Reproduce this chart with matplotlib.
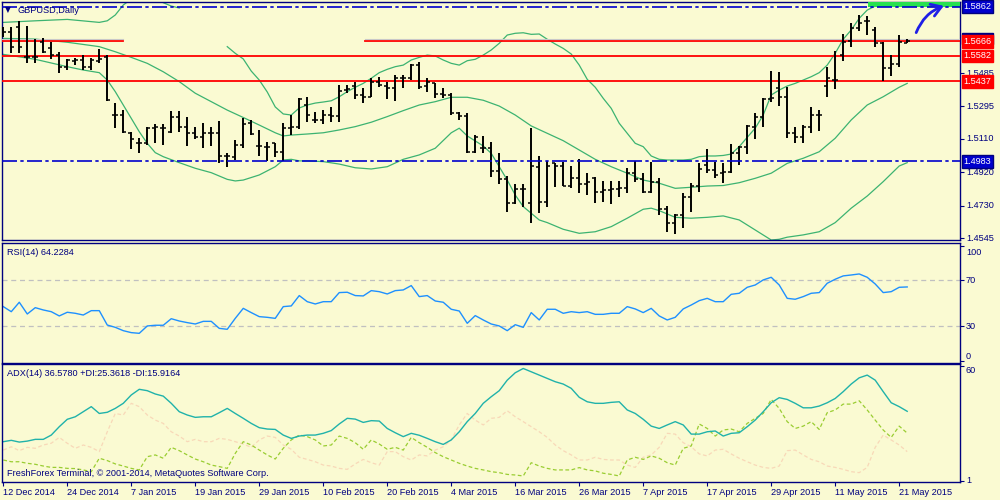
import numpy as np
import matplotlib
matplotlib.use("Agg")
import matplotlib.pyplot as plt
from matplotlib.patches import Rectangle
from matplotlib.transforms import blended_transform_factory

# ---------------- data ----------------
highs = [1.5748, 1.5748, 1.5783, 1.5752, 1.5676, 1.5682, 1.5663, 1.5606, 1.5563, 1.5568,
         1.5587, 1.5568, 1.5619, 1.5587, 1.5316, 1.5274, 1.5151, 1.5113, 1.5180, 1.5195,
         1.5195, 1.5269, 1.5269, 1.5236, 1.5180, 1.5198, 1.5180, 1.5212, 1.5032, 1.5104,
         1.5227, 1.5217, 1.5161, 1.5094, 1.5089, 1.5198, 1.5246, 1.5341, 1.5350, 1.5265,
         1.5274, 1.5293, 1.5417, 1.5417, 1.5436, 1.5398, 1.5454, 1.5460, 1.5436, 1.5473,
         1.5473, 1.5536, 1.5549, 1.5454, 1.5426, 1.5398, 1.5369, 1.5265, 1.5255, 1.5132,
         1.5126, 1.5094, 1.5028, 1.4899, 1.4853, 1.4853, 1.5170, 1.5013, 1.4986, 1.4971,
         1.4980, 1.4958, 1.4994, 1.4918, 1.4895, 1.4871, 1.4871, 1.4871, 1.4943, 1.4984,
         1.4918, 1.4980, 1.4886, 1.4728, 1.4681, 1.4804, 1.4857, 1.4975, 1.5051, 1.4980,
         1.4971, 1.5081, 1.5070, 1.5189, 1.5259, 1.5341, 1.5498, 1.5492, 1.5403, 1.5176,
         1.5189, 1.5290, 1.5274, 1.5521, 1.5612, 1.5707, 1.5771, 1.5815, 1.5809, 1.5745,
         1.5663, 1.5587, 1.5701, 1.5676]
lows = [1.5691, 1.5597, 1.5600, 1.5544, 1.5544, 1.5600, 1.5563, 1.5483, 1.5502, 1.5530,
        1.5502, 1.5502, 1.5540, 1.5327, 1.5170, 1.5145, 1.5051, 1.5032, 1.5075, 1.5089,
        1.5075, 1.5145, 1.5151, 1.5070, 1.5108, 1.5056, 1.5070, 1.4971, 1.4948, 1.4990,
        1.5056, 1.5132, 1.5013, 1.4986, 1.5009, 1.4986, 1.5132, 1.5164, 1.5208, 1.5198,
        1.5195, 1.5208, 1.5208, 1.5369, 1.5335, 1.5312, 1.5346, 1.5403, 1.5335, 1.5327,
        1.5398, 1.5445, 1.5392, 1.5379, 1.5341, 1.5341, 1.5246, 1.5217, 1.5028, 1.5032,
        1.5028, 1.4891, 1.4853, 1.4696, 1.4740, 1.4721, 1.4634, 1.4687, 1.4721, 1.4834,
        1.4842, 1.4829, 1.4804, 1.4791, 1.4747, 1.4753, 1.4740, 1.4778, 1.4804, 1.4867,
        1.4800, 1.4804, 1.4677, 1.4582, 1.4567, 1.4601, 1.4696, 1.4810, 1.4918, 1.4886,
        1.4857, 1.4914, 1.4962, 1.5024, 1.5108, 1.5176, 1.5322, 1.5297, 1.5113, 1.5089,
        1.5085, 1.5145, 1.5157, 1.5350, 1.5392, 1.5555, 1.5631, 1.5726, 1.5701, 1.5635,
        1.5441, 1.5468, 1.5521, 1.5653]
opens = [1.5716, 1.5720, 1.5748, 1.5574, 1.5574, 1.5663, 1.5625, 1.5587, 1.5521, 1.5553,
         1.5559, 1.5521, 1.5555, 1.5578, 1.5246, 1.5246, 1.5145, 1.5085, 1.5089, 1.5170,
         1.5170, 1.5151, 1.5236, 1.5180, 1.5142, 1.5119, 1.5142, 1.5142, 1.5013, 1.5009,
         1.5075, 1.5198, 1.5070, 1.5066, 1.5085, 1.5037, 1.5170, 1.5180, 1.5303, 1.5217,
         1.5217, 1.5246, 1.5240, 1.5388, 1.5411, 1.5360, 1.5350, 1.5436, 1.5411, 1.5398,
         1.5454, 1.5454, 1.5530, 1.5411, 1.5426, 1.5363, 1.5360, 1.5255, 1.5240, 1.5037,
         1.5056, 1.5056, 1.4929, 1.4880, 1.4743, 1.4823, 1.4743, 1.4952, 1.4753, 1.4971,
         1.4958, 1.4842, 1.4886, 1.4853, 1.4886, 1.4810, 1.4819, 1.4823, 1.4829, 1.4918,
         1.4880, 1.4810, 1.4867, 1.4709, 1.4634, 1.4677, 1.4778, 1.4842, 1.4962, 1.4933,
         1.4914, 1.4924, 1.5032, 1.5062, 1.5180, 1.5233, 1.5337, 1.5398, 1.5346, 1.5142,
         1.5123, 1.5180, 1.5246, 1.5411, 1.5445, 1.5587, 1.5669, 1.5739, 1.5783, 1.5729,
         1.5653, 1.5511, 1.5536, 1.5657]
closes = [1.5716, 1.5635, 1.5635, 1.5574, 1.5574, 1.5606, 1.5587, 1.5521, 1.5559, 1.5559,
          1.5521, 1.5559, 1.5563, 1.5331, 1.5246, 1.5149, 1.5108, 1.5085, 1.5170, 1.5176,
          1.5170, 1.5236, 1.5180, 1.5145, 1.5119, 1.5145, 1.5142, 1.5013, 1.5013, 1.5075,
          1.5195, 1.5138, 1.5070, 1.5066, 1.5037, 1.5170, 1.5180, 1.5335, 1.5246, 1.5217,
          1.5246, 1.5240, 1.5384, 1.5392, 1.5360, 1.5350, 1.5436, 1.5417, 1.5398, 1.5454,
          1.5454, 1.5530, 1.5403, 1.5436, 1.5363, 1.5360, 1.5255, 1.5240, 1.5037, 1.5123,
          1.5056, 1.4929, 1.4880, 1.4743, 1.4823, 1.4823, 1.4956, 1.4753, 1.4958, 1.4958,
          1.4842, 1.4886, 1.4853, 1.4867, 1.4810, 1.4819, 1.4823, 1.4829, 1.4918, 1.4880,
          1.4810, 1.4867, 1.4709, 1.4634, 1.4677, 1.4778, 1.4842, 1.4937, 1.4933, 1.4905,
          1.4924, 1.5032, 1.5062, 1.5183, 1.5233, 1.5337, 1.5341, 1.5346, 1.5142, 1.5119,
          1.5180, 1.5246, 1.5246, 1.5454, 1.5445, 1.5663, 1.5739, 1.5771, 1.5783, 1.5653,
          1.5511, 1.5536, 1.5659, 1.5669]

bb_upper_idx = [0, 4, 8, 12, 13, 14, 15, 16, 18, 20, 21, 22, 23] + list(range(28, 114))
bb_upper = [1.5773, 1.5782, 1.5790, 1.5773, 1.5782, 1.5815, 1.5872, 1.5905, 1.5925, 1.5885,
            1.5866, 1.5855, np.nan,
            1.5635, 1.5597, 1.5565, 1.5496, 1.5445, 1.5377, 1.5292, 1.5252, 1.5246, 1.5286,
            1.5303, 1.5314, 1.5320, 1.5327, 1.5350, 1.5379, 1.5404, 1.5426, 1.5455, 1.5487,
            1.5506, 1.5521, 1.5530, 1.5559, 1.5574, 1.5587, 1.5582, 1.5559, 1.5540, 1.5530,
            1.5555, 1.5563, 1.5587, 1.5616, 1.5654, 1.5701, 1.5711, 1.5714, 1.5705, 1.5707,
            1.5677, 1.5650, 1.5625, 1.5593, 1.5530, 1.5449, 1.5404, 1.5341, 1.5284, 1.5199,
            1.5142, 1.5085, 1.5066, 1.5013, 1.4994, 1.4990, 1.4990, 1.4990, 1.4994, 1.5009,
            1.5013, 1.5013, 1.5016, 1.5024, 1.5066, 1.5119, 1.5171, 1.5246, 1.5360, 1.5388,
            1.5411, 1.5426, 1.5445, 1.5464, 1.5487, 1.5530, 1.5597, 1.5677, 1.5730, 1.5796,
            1.5843, 1.5866, 1.5877, 1.5881, 1.5890, 1.5900]
bb_mid_idx = [0, 4, 8, 12, 14, 16, 18, 20, 22, 24, 26, 28, 30, 32, 34, 35, 36, 38, 40, 42,
              44, 46, 48, 50, 52, 54, 56, 58, 60, 62, 64, 66, 68, 70, 72, 74, 76, 78, 80, 82,
              84, 86, 88, 90, 92, 94, 96, 98, 100, 102, 104, 106, 108, 110, 112, 113]
bb_mid = [1.5682, 1.5678, 1.5660, 1.5635, 1.5606, 1.5574, 1.5540, 1.5492, 1.5436, 1.5370,
          1.5322, 1.5274, 1.5232, 1.5189, 1.5145, 1.5127, 1.5132, 1.5138, 1.5145, 1.5161,
          1.5180, 1.5205, 1.5237, 1.5271, 1.5303, 1.5322, 1.5347, 1.5347, 1.5330, 1.5297,
          1.5246, 1.5184, 1.5142, 1.5100, 1.5047, 1.4994, 1.4952, 1.4915, 1.4876, 1.4858,
          1.4829, 1.4835, 1.4842, 1.4845, 1.4861, 1.4886, 1.4915, 1.4971, 1.5000, 1.5037,
          1.5114, 1.5218, 1.5303, 1.5350, 1.5404, 1.5426]
bb_lower_idx = [0, 4, 8, 10, 12, 13, 14, 15, 16, 17, 18, 19, 20, 22, 24, 26, 28, 29, 30, 32,
                34, 35, 36, 37, 38, 40, 42, 44, 46, 48, 50, 52, 54, 56, 57, 58, 60, 61, 62, 63,
                64, 65, 66, 67, 68, 70, 72, 74, 76, 78, 80, 81, 82, 84, 86, 88, 90, 92, 94, 96,
                97, 98, 100, 102, 104, 106, 108, 110, 112, 113]
bb_lower = [1.5591, 1.5563, 1.5521, 1.5502, 1.5487, 1.5445, 1.5379, 1.5303, 1.5227, 1.5151,
            1.5085, 1.5032, 1.5009, 1.4975, 1.4943, 1.4918, 1.4880, 1.4871, 1.4876, 1.4905,
            1.4952, 1.4990, 1.4994, 1.4985, 1.4985, 1.4981, 1.4967, 1.4946, 1.4939, 1.4952,
            1.4994, 1.5019, 1.5057, 1.5145, 1.5171, 1.5127, 1.5070, 1.5028, 1.4952, 1.4876,
            1.4791, 1.4725, 1.4687, 1.4649, 1.4634, 1.4596, 1.4573, 1.4582, 1.4611, 1.4659,
            1.4710, 1.4716, 1.4702, 1.4664, 1.4659, 1.4664, 1.4672, 1.4649, 1.4592, 1.4535,
            1.4539, 1.4551, 1.4564, 1.4582, 1.4634, 1.4716, 1.4785, 1.4867, 1.4956, 1.4975]

rsi = [47.1, 42.7, 50.9, 40.7, 46.2, 44.2, 42.7, 39.0, 42.2, 41.3,
       39.8, 43.6, 43.6, 31.1, 29.1, 26.2, 24.5, 23.9, 30.3, 30.9,
       30.9, 36.6, 34.6, 33.2, 32.0, 34.3, 34.3, 28.2, 27.4, 36.9,
       45.6, 41.9, 38.4, 37.8, 36.9, 47.1, 47.7, 56.7, 51.4, 49.4,
       51.4, 51.4, 59.3, 59.6, 56.7, 56.4, 61.0, 60.1, 58.1, 61.0,
       61.6, 65.4, 55.8, 56.7, 52.0, 50.9, 44.8, 43.3, 32.6, 39.3,
       35.5, 32.0, 30.3, 26.2, 31.4, 29.1, 41.9, 35.5, 44.8, 44.8,
       41.3, 42.7, 41.9, 42.7, 40.4, 40.4, 41.3, 41.3, 47.1, 45.1,
       41.9, 45.6, 39.0, 35.5, 37.8, 45.1, 48.5, 52.3, 54.3, 51.4,
       51.4, 57.8, 58.7, 63.9, 65.9, 70.3, 72.6, 65.9, 54.3, 53.5,
       55.8, 58.7, 59.3, 67.4, 70.9, 73.8, 74.6, 75.5, 72.6, 66.8,
       59.3, 60.1, 63.9, 64.2]
adx = [21.0, 21.7, 20.8, 21.3, 22.2, 22.2, 24.4, 28.7, 32.5, 33.8,
       36.4, 39.0, 35.5, 36.1, 38.1, 40.7, 45.0, 47.9, 47.2, 45.5,
       44.4, 40.7, 36.4, 34.7, 33.5, 33.8, 33.8, 35.9, 38.1, 35.5,
       33.0, 30.4, 28.2, 27.5, 27.3, 24.4, 22.7, 23.9, 24.4, 24.4,
       25.3, 26.7, 30.1, 33.0, 32.6, 30.9, 31.8, 31.6, 27.8, 25.6,
       23.6, 25.3, 24.3, 22.7, 21.0, 19.6, 21.9, 26.1, 31.3, 35.5,
       40.7, 44.1, 47.2, 52.6, 56.4, 58.6, 56.9, 55.2, 53.5, 51.8,
       50.6, 48.4, 43.8, 41.5, 40.7, 40.7, 41.2, 41.5, 37.3, 35.5,
       32.5, 29.0, 27.8, 29.6, 31.3, 29.6, 24.9, 24.9, 26.1, 26.5,
       23.9, 25.3, 25.6, 28.7, 32.1, 36.4, 41.0, 43.6, 42.7, 40.7,
       38.4, 38.4, 39.3, 41.0, 43.2, 46.7, 50.6, 53.8, 55.2, 52.6,
       46.7, 41.0, 39.0, 36.6]
plus_di = [11.6, 10.7, 10.7, 9.9, 9.4, 8.5, 7.8, 7.8, 7.3, 7.2,
           6.5, 5.6, 12.5, 11.3, 9.6, 8.5, 7.3, 6.5, 13.3, 14.2,
           12.5, 18.1, 16.4, 14.2, 12.1, 10.7, 9.0, 8.2, 7.3, 15.0,
           21.0, 19.3, 16.7, 14.2, 12.1, 17.6, 21.9, 24.4, 23.6, 21.9,
           18.8, 19.3, 23.9, 22.7, 20.5, 17.1, 21.9, 19.8, 17.1, 18.1,
           16.7, 23.2, 20.5, 18.1, 15.4, 13.3, 11.6, 9.9, 8.5, 7.3,
           6.5, 5.6, 5.1, 4.2, 3.9, 3.4, 10.2, 8.5, 7.3, 6.5,
           6.5, 6.5, 7.7, 6.5, 6.0, 4.8, 4.2, 3.4, 11.6, 13.0,
           11.9, 13.7, 12.5, 10.2, 9.0, 17.6, 18.8, 30.1, 27.8, 23.9,
           27.0, 27.5, 26.1, 30.4, 33.0, 35.5, 42.7, 38.1, 31.3, 27.8,
           29.0, 31.3, 27.3, 35.9, 37.3, 40.3, 40.3, 42.0, 37.3, 32.1,
           27.0, 23.2, 29.0, 25.4]
minus_di = [16.7, 18.4, 16.4, 18.1, 17.6, 19.3, 20.2, 23.2, 20.2, 17.6,
            19.3, 18.1, 15.9, 26.1, 35.5, 34.7, 40.7, 39.0, 34.7, 32.1,
            30.4, 26.1, 23.9, 21.0, 22.2, 21.0, 21.0, 22.7, 22.2, 21.0,
            19.8, 18.1, 21.9, 23.9, 23.2, 19.3, 17.1, 13.0, 11.9, 10.7,
            9.0, 8.5, 7.3, 6.8, 9.6, 11.9, 10.2, 9.0, 15.9, 15.9,
            13.3, 11.6, 14.2, 13.7, 16.7, 18.4, 21.9, 29.6, 35.5, 32.1,
            29.6, 33.0, 33.5, 36.9, 33.8, 31.3, 28.7, 26.1, 23.2, 19.3,
            16.4, 14.2, 11.6, 11.6, 13.0, 11.9, 11.6, 11.6, 9.0, 7.8,
            13.0, 14.2, 18.1, 25.3, 24.9, 20.5, 18.4, 14.7, 13.7, 16.7,
            17.1, 14.7, 12.5, 10.7, 9.0, 7.8, 7.3, 8.5, 16.4, 16.7,
            14.2, 11.9, 10.7, 8.5, 7.8, 6.8, 5.6, 5.1, 7.8, 18.1,
            24.4, 21.9, 19.3, 15.9]

date_labels = ["12 Dec 2014", "24 Dec 2014", "7 Jan 2015", "19 Jan 2015", "29 Jan 2015",
               "10 Feb 2015", "20 Feb 2015", "4 Mar 2015", "16 Mar 2015", "26 Mar 2015",
               "7 Apr 2015", "17 Apr 2015", "29 Apr 2015", "11 May 2015", "21 May 2015"]
date_bars = [0, 8, 16, 24, 32, 40, 48, 56, 64, 72, 80, 88, 96, 104, 112]

price_ticks = [1.5485, 1.5295, 1.5110, 1.4920, 1.4730, 1.4545]
red_levels = [1.5666, 1.5582, 1.5437]
blue_levels = [1.5862, 1.4983]
rsi_levels = [70, 30]
rsi_ticks = [100, 70, 30, 0]
adx_ticks = [60, 1]

# ---------------- style ----------------
BG = "#FAFAD2"
NAVY = "#000080"
FONT = "Liberation Sans"
FS = 6.6
plt.rcParams["font.family"] = [FONT, "DejaVu Sans"]

W, H = 1000, 500
fig = plt.figure(figsize=(10, 5), dpi=100, facecolor=BG)

def frac(x0, y0, x1, y1):
    return [x0 / W, 1 - y1 / H, (x1 - x0) / W, (y1 - y0) / H]

ax1 = fig.add_axes(frac(2, 2, 960, 240))
ax2 = fig.add_axes(frac(2, 243, 960, 363), sharex=ax1)
ax3 = fig.add_axes(frac(2, 364, 960, 482), sharex=ax1)

for ax in (ax1, ax2, ax3):
    ax.set_facecolor(BG)
    for s in ax.spines.values():
        s.set_color(NAVY)
        s.set_linewidth(1.0)
    ax.tick_params(axis="y", left=False, labelleft=False, right=True, labelright=False,
                   direction="out", length=3, color=NAVY, width=0.8)
    ax.tick_params(axis="x", bottom=False, labelbottom=False)

n = len(closes)
x = np.arange(n)
ax1.set_xlim(-0.16, 119.6)
ax1.set_ylim(1.4535, 1.5889)
ax2.set_ylim(-1.9, 102.4)
ax3.set_ylim(0.3, 60.9)

# ---- main price panel ----
ax1.plot(bb_upper_idx, bb_upper, color="#3CB371", lw=0.9, zorder=2)
ax1.plot(bb_mid_idx, bb_mid, color="#3CB371", lw=0.9, zorder=2)
ax1.plot(bb_lower_idx, bb_lower, color="#3CB371", lw=0.9, zorder=2)

ax1.vlines(x, lows, highs, color="black", lw=1.4, zorder=4)
ax1.hlines(opens, x - 0.38, x, color="black", lw=1.1, zorder=4)
ax1.hlines(closes, x, x + 0.38, color="black", lw=1.1, zorder=4)

# horizontal levels
for lv in red_levels[1:]:
    ax1.axhline(lv, color="#FF0000", lw=1.3, zorder=3)
ax1.plot([-0.16, 15], [red_levels[0]] * 2, color="#FF0000", lw=1.3, zorder=3)
ax1.plot([45.2, 119.6], [red_levels[0]] * 2, color="#FF0000", lw=1.3, zorder=3)
ax1.plot([-0.16, 15], [red_levels[0] + 0.0011] * 2, color="#C8C8C8", lw=0.8, zorder=3)
ax1.plot([45.2, 119.6], [red_levels[0] + 0.0011] * 2, color="#C8C8C8", lw=0.8, zorder=3)
for lv in blue_levels:
    ax1.axhline(lv, color="#0000CD", lw=1.2, dashes=(9, 2, 2, 2), zorder=5)

# green target zone + hand-drawn arrow
ax1.add_patch(Rectangle((108.1, 1.5858), 12, 0.0032, facecolor="#28E050",
                        edgecolor="none", zorder=4.5))
ax1.annotate("", xy=(117.9, 1.5872), xytext=(114.0, 1.5700),
             arrowprops=dict(arrowstyle="->,head_length=0.7,head_width=0.45",
                             color="#1E1EE6", lw=2.0,
                             connectionstyle="arc3,rad=-0.25"), zorder=6)

# ---- RSI panel ----
for lv in rsi_levels:
    ax2.axhline(lv, color="#C0C0C0", lw=0.9, ls=(0, (4, 3)))
ax2.plot(x, rsi, color="#1E90FF", lw=1.0)

# ---- ADX panel ----
ax3.plot(x, minus_di, color="#F8D8B8", lw=0.9, ls=(0, (3, 2)))
ax3.plot(x, plus_di, color="#9ACD32", lw=0.9, ls=(0, (3, 2)))
ax3.plot(x, adx, color="#20B2AA", lw=1.0)

ax3.set_xticks(date_bars)
ax3.set_xticklabels(date_labels)
ax3.tick_params(axis="x", bottom=True, labelbottom=True, direction="out", length=3,
                color=NAVY, labelcolor=NAVY, labelsize=FS, pad=1.5)
for lab in ax3.get_xticklabels():
    lab.set_ha("left")

# ---- right axis labels ----
tr1 = blended_transform_factory(fig.transFigure, ax1.transData)
tr2 = blended_transform_factory(fig.transFigure, ax2.transData)
tr3 = blended_transform_factory(fig.transFigure, ax3.transData)

ax1.set_yticks(price_ticks)
for v in price_ticks:
    fig.text(0.966, v, "%.4f" % v, transform=tr1, ha="left", va="center",
             fontsize=FS, color=NAVY)
ax2.set_yticks(rsi_ticks)
for v in rsi_ticks:
    yv = v - 6 if v == 100 else (v + 4 if v == 0 else v)
    fig.text(0.966, yv, str(v), transform=tr2, ha="left", va="center", fontsize=FS, color=NAVY)
ax3.set_yticks(adx_ticks)
for v in adx_ticks:
    yv = v - 2.2 if v == 60 else v
    fig.text(0.966, yv, str(v), transform=tr3, ha="left", va="center", fontsize=FS, color=NAVY)

# current price marker (mostly hidden behind the 1.5666 label)
fig.patches.append(Rectangle((962 / W, 1 - 44 / H), 31 / W, 11 / H, transform=fig.transFigure,
                             facecolor=NAVY, edgecolor=NAVY, zorder=1))
for lv in red_levels:
    fig.text(0.9635, lv, "%.4f" % lv, transform=tr1, ha="left", va="center", fontsize=FS,
             color="white", bbox=dict(boxstyle="square,pad=0.2", fc="#FF0000", ec="#FF0000"))
for lv in blue_levels:
    fig.text(0.9635, lv, "%.4f" % lv, transform=tr1, ha="left", va="center", fontsize=FS,
             color="white", bbox=dict(boxstyle="square,pad=0.2", fc="#0000CD", ec=NAVY))

# ---- header texts ----
def px_text(px, py, s, size=FS, **kw):
    fig.text(px / W, 1 - py / H, s, va="center", ha="left", fontsize=size, color=NAVY, **kw)

px_text(5, 10, "\u25BC", size=5.5, family=["DejaVu Sans"])
px_text(18, 10.5, "GBPUSD,Daily")
px_text(7, 252.5, "RSI(14) 64.2284")
px_text(7, 373.5, "ADX(14) 36.5780 +DI:25.3618 -DI:15.9164")
px_text(7, 474, "FreshForex Terminal, \u00A9 2001-2014, MetaQuotes Software Corp.")

fig.savefig("out.png", dpi=100, facecolor=BG)
